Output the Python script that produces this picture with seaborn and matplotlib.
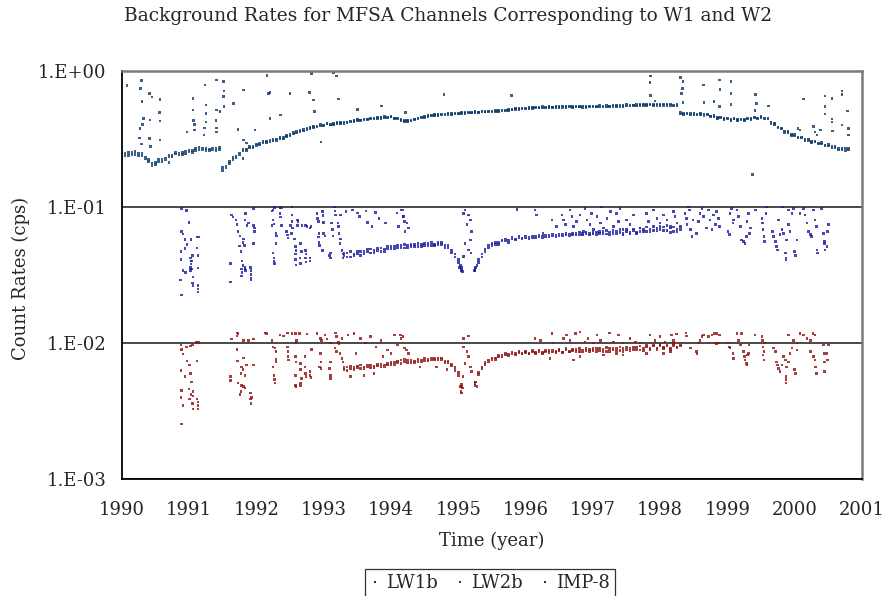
import numpy as np
import pandas as pd
import matplotlib
matplotlib.use("Agg")
import matplotlib.pyplot as plt
import seaborn as sns
from matplotlib.ticker import FixedLocator, FixedFormatter, LogLocator, NullFormatter, MultipleLocator
from matplotlib.lines import Line2D

TITLE = "Background Rates for MFSA Channels Corresponding to W1 and W2"
X_LABEL = "Time (year)"
Y_LABEL = "Count Rates (cps)"
SERIES = ["LW1b", "LW2b", "IMP-8"]
X_TICKS = list(range(1990, 2002))
Y_TICKS = [1e-3, 1e-2, 1e-1, 1e0]
Y_TICK_LABELS = ["1.E-03", "1.E-02", "1.E-01", "1.E+00"]

nan = float("nan")

# ---- IMP-8 dense band (read every 0.05 yr; two readings per time: band edges) ----
IMP8_BAND_YEARS = [
    1990.00, 1990.05, 1990.10, 1990.15, 1990.20, 1990.25, 1990.30, 1990.35, 1990.40, 1990.45,
    1990.50, 1990.55, 1990.60, 1990.65, 1990.70, 1990.75, 1990.80, 1990.85, 1990.90, 1990.95,
    1991.00, 1991.05, 1991.10, 1991.15, 1991.20, 1991.25, 1991.30, 1991.35, 1991.40, 1991.45,
    1991.50, 1991.55, 1991.60, 1991.65, 1991.70, 1991.75, 1991.80, 1991.85, 1991.90, 1991.95,
    1992.00, 1992.05, 1992.10, 1992.15, 1992.20, 1992.25, 1992.30, 1992.35, 1992.40, 1992.45,
    1992.50, 1992.55, 1992.60, 1992.65, 1992.70, 1992.75, 1992.80, 1992.85, 1992.90, 1992.95,
    1993.00, 1993.05, 1993.10, 1993.15, 1993.20, 1993.25, 1993.30, 1993.35, 1993.40, 1993.45,
    1993.50, 1993.55, 1993.60, 1993.65, 1993.70, 1993.75, 1993.80, 1993.85, 1993.90, 1993.95,
    1994.00, 1994.05, 1994.10, 1994.15, 1994.20, 1994.25, 1994.30, 1994.35, 1994.40, 1994.45,
    1994.50, 1994.55, 1994.60, 1994.65, 1994.70, 1994.75, 1994.80, 1994.85, 1994.90, 1994.95,
    1995.00, 1995.05, 1995.10, 1995.15, 1995.20, 1995.25, 1995.30, 1995.35, 1995.40, 1995.45,
    1995.50, 1995.55, 1995.60, 1995.65, 1995.70, 1995.75, 1995.80, 1995.85, 1995.90, 1995.95,
    1996.00, 1996.05, 1996.10, 1996.15, 1996.20, 1996.25, 1996.30, 1996.35, 1996.40, 1996.45,
    1996.50, 1996.55, 1996.60, 1996.65, 1996.70, 1996.75, 1996.80, 1996.85, 1996.90, 1996.95,
    1997.00, 1997.05, 1997.10, 1997.15, 1997.20, 1997.25, 1997.30, 1997.35, 1997.40, 1997.45,
    1997.50, 1997.55, 1997.60, 1997.65, 1997.70, 1997.75, 1997.80, 1997.85, 1997.90, 1997.95,
    1998.00, 1998.05, 1998.10, 1998.15, 1998.20, 1998.25, 1998.30, 1998.35, 1998.40, 1998.45,
    1998.50, 1998.55, 1998.60, 1998.65, 1998.70, 1998.75, 1998.80, 1998.85, 1998.90, 1998.95,
    1999.00, 1999.05, 1999.10, 1999.15, 1999.20, 1999.25, 1999.30, 1999.35, 1999.40, 1999.45,
    1999.50, 1999.55, 1999.60, 1999.65, 1999.70, 1999.75, 1999.80, 1999.85, 1999.90, 1999.95,
    2000.00, 2000.05, 2000.10, 2000.15, 2000.20, 2000.25, 2000.30, 2000.35, 2000.40, 2000.45,
    2000.50, 2000.55, 2000.60, 2000.65, 2000.70, 2000.75, 2000.80,
]
IMP8_BAND = [
    0.235, 0.245, 0.238, 0.250, 0.242, 0.248, 0.236, 0.225, 0.215, 0.200,
    0.205, 0.222, 0.215, 0.228, 0.232, 0.238, 0.244, 0.240, 0.250, 0.246,
    0.252, 0.258, 0.268, 0.262, 0.270, 0.258, 0.266, 0.262, 0.268, 0.272,
    0.185, 0.200, 0.215, 0.222, 0.235, 0.248, 0.256, 0.265, 0.270, 0.278,
    0.282, 0.292, 0.294, 0.302, 0.309, 0.303, 0.314, 0.316, 0.322, 0.328,
    0.338, 0.343, 0.356, 0.358, 0.368, 0.370, 0.381, 0.382, 0.392, 0.393,
    0.398, 0.404, 0.403, 0.410, 0.408, 0.415, 0.410, 0.420, 0.420, 0.428,
    0.428, 0.435, 0.434, 0.442, 0.440, 0.448, 0.446, 0.452, 0.450, 0.457,
    0.455, 0.450, 0.441, 0.430, 0.430, 0.423, 0.432, 0.436, 0.448, 0.450,
    0.460, 0.460, 0.470, 0.468, 0.474, 0.472, 0.478, 0.476, 0.482, 0.480,
    0.486, 0.484, 0.490, 0.488, 0.493, 0.491, 0.497, 0.495, 0.501, 0.498,
    0.504, 0.502, 0.507, 0.505, 0.512, 0.511, 0.518, 0.517, 0.524, 0.523,
    0.529, 0.527, 0.533, 0.530, 0.536, 0.532, 0.538, 0.534, 0.540, 0.535,
    0.542, 0.537, 0.543, 0.538, 0.544, 0.538, 0.545, 0.536, 0.544, 0.538,
    0.540, 0.546, 0.538, 0.549, 0.541, 0.551, 0.544, 0.553, 0.546, 0.556,
    0.548, 0.557, 0.558, 0.551, 0.561, 0.555, 0.563, 0.557, 0.561, 0.555,
    0.563, 0.555, 0.561, 0.553, 0.559, 0.549, 0.480, 0.485, 0.478, 0.482,
    0.476, 0.480, 0.474, 0.478, 0.470, 0.465, 0.458, 0.452, 0.448, 0.444,
    0.442, 0.438, 0.440, 0.436, 0.434, 0.438, 0.440, 0.445, 0.448, 0.450,
    0.452, 0.448, 0.440, 0.420, 0.400, 0.385, 0.372, 0.360, 0.350, 0.340,
    0.332, 0.326, 0.320, 0.314, 0.308, 0.302, 0.298, 0.294, 0.290, 0.285,
    0.280, 0.276, 0.272, 0.268, 0.264, 0.270, 0.262,
]
IMP8_BAND_2 = [
    0.248, 0.236, 0.250, 0.240, 0.254, 0.238, 0.246, 0.232, 0.222, 0.208,
    0.212, 0.214, 0.224, 0.220, 0.240, 0.232, 0.250, 0.248, 0.242, 0.256,
    0.262, 0.250, 0.260, 0.272, 0.262, 0.268, 0.258, 0.270, 0.260, 0.264,
    0.195, 0.192, 0.208, 0.230, 0.228, 0.240, 0.264, 0.258, 0.278, 0.270,
    0.290, 0.284, 0.302, 0.296, 0.300, 0.312, 0.306, 0.324, 0.314, 0.334,
    0.330, 0.350, 0.348, 0.366, 0.360, 0.378, 0.374, 0.390, 0.386, 0.400,
    0.392, 0.410, 0.398, 0.402, 0.416, 0.408, 0.418, 0.414, 0.426, 0.422,
    0.436, 0.428, 0.442, 0.436, 0.448, 0.440, 0.454, 0.446, 0.458, 0.450,
    0.462, 0.444, 0.448, 0.436, 0.424, 0.430, 0.426, 0.442, 0.442, 0.456,
    0.454, 0.466, 0.464, 0.476, 0.468, 0.480, 0.472, 0.484, 0.476, 0.488,
    0.480, 0.492, 0.484, 0.496, 0.487, 0.499, 0.491, 0.503, 0.495, 0.506,
    0.498, 0.510, 0.502, 0.513, 0.506, 0.518, 0.512, 0.524, 0.518, 0.530,
    0.522, 0.535, 0.526, 0.538, 0.530, 0.542, 0.532, 0.545, 0.534, 0.546,
    0.536, 0.548, 0.536, 0.549, 0.537, 0.550, 0.538, 0.549, 0.536, 0.548,
    0.548, 0.538, 0.554, 0.540, 0.556, 0.543, 0.558, 0.545, 0.560, 0.547,
    0.562, 0.549, 0.552, 0.565, 0.553, 0.566, 0.555, 0.568, 0.552, 0.566,
    0.555, 0.568, 0.552, 0.566, 0.550, 0.562, 0.490, 0.476, 0.488, 0.472,
    0.486, 0.470, 0.482, 0.468, 0.478, 0.458, 0.466, 0.445, 0.456, 0.436,
    0.450, 0.430, 0.446, 0.428, 0.442, 0.430, 0.448, 0.438, 0.456, 0.442,
    0.460, 0.440, 0.448, 0.410, 0.408, 0.378, 0.380, 0.352, 0.358, 0.334,
    0.338, 0.320, 0.326, 0.308, 0.314, 0.296, 0.304, 0.288, 0.296, 0.280,
    0.286, 0.270, 0.278, 0.262, 0.270, 0.258, 0.268,
]

# ---- LW1b / LW2b dense band 1993.3 - 1998.3 ----
LW_BAND_YEARS = [
    1993.30, 1993.35, 1993.40, 1993.45, 1993.50, 1993.55, 1993.60, 1993.65, 1993.70, 1993.75,
    1993.80, 1993.85, 1993.90, 1993.95,
    1994.00, 1994.05, 1994.10, 1994.15, 1994.20, 1994.25, 1994.30, 1994.35, 1994.40, 1994.45,
    1994.50, 1994.55, 1994.60, 1994.65, 1994.70, 1994.75, 1994.80, 1994.85, 1994.90, 1994.95,
    1995.00, 1995.05, 1995.10, 1995.15, 1995.20, 1995.25, 1995.30, 1995.35, 1995.40, 1995.45,
    1995.50, 1995.55, 1995.60, 1995.65, 1995.70, 1995.75, 1995.80, 1995.85, 1995.90, 1995.95,
    1996.00, 1996.05, 1996.10, 1996.15, 1996.20, 1996.25, 1996.30, 1996.35, 1996.40, 1996.45,
    1996.50, 1996.55, 1996.60, 1996.65, 1996.70, 1996.75, 1996.80, 1996.85, 1996.90, 1996.95,
    1997.00, 1997.05, 1997.10, 1997.15, 1997.20, 1997.25, 1997.30, 1997.35, 1997.40, 1997.45,
    1997.50, 1997.55, 1997.60, 1997.65, 1997.70, 1997.75, 1997.80, 1997.85, 1997.90, 1997.95,
    1998.00, 1998.05, 1998.10, 1998.15, 1998.20, 1998.25, 1998.30,
]
LW1B_BAND = [
    0.044, 0.046, 0.043, 0.045, 0.047, 0.044, 0.047, 0.049, 0.046, 0.048,
    0.050, 0.047, 0.049, 0.051,
    0.049, 0.051, 0.050, 0.052, 0.050, 0.052, 0.051, 0.053, 0.051, 0.053,
    0.052, 0.054, 0.052, 0.053, 0.055, 0.053, 0.052, 0.050, 0.048, 0.045,
    0.039, 0.034, nan, nan, nan, 0.0355, 0.039, 0.043, 0.047, 0.050,
    0.052, 0.053, 0.055, 0.056, 0.056, 0.057, 0.058, 0.058, 0.059, 0.059,
    0.059, 0.060, 0.059, 0.061, 0.060, 0.061, 0.060, 0.062, 0.061, 0.062,
    0.061, 0.063, 0.062, 0.063, 0.062, 0.064, 0.062, 0.064, 0.063, 0.064,
    0.063, 0.065, 0.064, 0.066, 0.063, 0.065, 0.064, 0.066, 0.065, 0.064,
    0.066, 0.065, 0.067, 0.064, 0.066, 0.068, 0.066, 0.069, 0.067, 0.070,
    0.068, 0.071, 0.067, 0.070, 0.066, 0.069, 0.068,
]
LW1B_BAND_2 = [
    0.046, 0.043, 0.047, 0.044, 0.045, 0.047, 0.045, 0.047, 0.049, 0.046,
    0.048, 0.050, 0.047, 0.049,
    0.051, 0.049, 0.052, 0.050, 0.053, 0.050, 0.053, 0.051, 0.054, 0.051,
    0.054, 0.052, 0.055, 0.052, 0.053, 0.055, 0.050, 0.052, 0.046, 0.043,
    0.041, 0.036, nan, nan, nan, 0.034, 0.041, 0.045, 0.049, 0.052,
    0.054, 0.055, 0.053, 0.057, 0.058, 0.055, 0.060, 0.057, 0.061, 0.058,
    0.061, 0.058, 0.061, 0.059, 0.062, 0.059, 0.062, 0.060, 0.063, 0.060,
    0.063, 0.061, 0.064, 0.061, 0.064, 0.062, 0.065, 0.062, 0.065, 0.062,
    0.065, 0.062, 0.066, 0.063, 0.067, 0.062, 0.067, 0.063, 0.068, 0.062,
    0.068, 0.063, 0.069, 0.065, 0.070, 0.066, 0.071, 0.066, 0.072, 0.067,
    0.072, 0.067, 0.073, 0.065, 0.071, 0.066, 0.072,
]
LW2B_BAND = [
    0.0064, 0.0067, 0.0065, 0.0066, 0.0068, 0.0065, 0.0067, 0.0069, 0.0066, 0.0068,
    0.0070, 0.0067, 0.0069, 0.0071,
    0.0070, 0.0073, 0.0072, 0.0075, 0.0073, 0.0075, 0.0072, 0.0074, 0.0073, 0.0075,
    0.0074, 0.0076, 0.0075, 0.0077, 0.0078, 0.0076, 0.0074, 0.0072, 0.0070, 0.0066,
    0.0058, 0.0048, nan, nan, nan, 0.0052, 0.0059, 0.0065, 0.0070, 0.0073,
    0.0076, 0.0078, 0.0079, 0.0081, 0.0082, 0.0083, 0.0083, 0.0084, 0.0085, 0.0084,
    0.0085, 0.0084, 0.0086, 0.0085, 0.0087, 0.0085, 0.0086, 0.0088, 0.0086, 0.0087,
    0.0088, 0.0086, 0.0089, 0.0087, 0.0088, 0.0090, 0.0087, 0.0089, 0.0088, 0.0090,
    0.0088, 0.0091, 0.0088, 0.0090, 0.0087, 0.0091, 0.0089, 0.0092, 0.0088, 0.0091,
    0.0089, 0.0092, 0.0090, 0.0093, 0.0089, 0.0092, 0.0094, 0.0091, 0.0095, 0.0092,
    0.0096, 0.0093, 0.0095, 0.0092, 0.0096, 0.0094, 0.0097,
]
LW2B_BAND_2 = [
    0.0066, 0.0063, 0.0068, 0.0064, 0.0066, 0.0069, 0.0065, 0.0067, 0.0069, 0.0066,
    0.0068, 0.0070, 0.0067, 0.0069,
    0.0072, 0.0070, 0.0074, 0.0071, 0.0076, 0.0072, 0.0075, 0.0072, 0.0076, 0.0073,
    0.0077, 0.0074, 0.0078, 0.0075, 0.0076, 0.0078, 0.0072, 0.0074, 0.0068, 0.0063,
    0.0061, 0.0050, nan, nan, nan, 0.0050, 0.0061, 0.0067, 0.0072, 0.0075,
    0.0078, 0.0076, 0.0081, 0.0079, 0.0084, 0.0081, 0.0085, 0.0082, 0.0087, 0.0083,
    0.0087, 0.0083, 0.0088, 0.0084, 0.0089, 0.0084, 0.0088, 0.0085, 0.0089, 0.0085,
    0.0090, 0.0085, 0.0091, 0.0086, 0.0090, 0.0087, 0.0091, 0.0086, 0.0091, 0.0087,
    0.0091, 0.0087, 0.0092, 0.0086, 0.0093, 0.0087, 0.0092, 0.0088, 0.0094, 0.0087,
    0.0093, 0.0088, 0.0094, 0.0089, 0.0095, 0.0088, 0.0096, 0.0090, 0.0097, 0.0090,
    0.0098, 0.0091, 0.0097, 0.0090, 0.0099, 0.0092, 0.0095,
]

# ---- scattered points (year, rate) ----
IMP8_SCATTER = [
    (1990.08, 0.774), (1990.29, 0.842), (1990.28, 0.735), (1990.30, 0.59), (1990.32, 0.446),
    (1990.31, 0.40), (1990.27, 0.376), (1990.26, 0.32), (1990.29, 0.29), (1990.41, 0.68),
    (1990.45, 0.64), (1990.42, 0.433), (1990.41, 0.318), (1990.43, 0.276), (1990.57, 0.61),
    (1990.56, 0.49), (1990.57, 0.426), (1990.57, 0.31), (1991.06, 0.625), (1991.06, 0.513),
    (1991.07, 0.43), (1991.08, 0.40), (1991.08, 0.366), (1990.97, 0.355), (1991.24, 0.783),
    (1991.25, 0.56), (1991.25, 0.485), (1991.25, 0.42), (1991.23, 0.38), (1991.22, 0.336),
    (1991.41, 0.852), (1991.41, 0.513), (1991.40, 0.43), (1991.41, 0.38), (1991.41, 0.354),
    (1991.46, 0.50), (1991.51, 0.828), (1991.52, 0.71), (1991.51, 0.642), (1991.52, 0.542),
    (1991.66, 0.574), (1991.81, 0.72), (1991.73, 0.37), (1991.81, 0.31), (1991.85, 0.295),
    (1991.98, 0.366), (1992.16, 0.916), (1992.18, 0.68), (1992.20, 0.69), (1992.20, 0.446),
    (1992.36, 0.47), (1992.50, 0.68), (1992.79, 0.687), (1992.82, 0.953), (1992.85, 0.608),
    (1992.86, 0.50), (1992.96, 0.30), (1993.15, 0.96), (1993.19, 0.91), (1993.22, 0.618),
    (1993.50, 0.52), (1993.86, 0.549), (1994.22, 0.494), (1994.79, 0.669), (1995.79, 0.653),
    (1997.86, 0.911), (1997.85, 0.819), (1997.86, 0.653), (1997.92, 0.598), (1998.30, 0.885),
    (1998.34, 0.828), (1998.33, 0.74), (1998.32, 0.68), (1998.34, 0.58), (1998.64, 0.783),
    (1998.65, 0.58), (1998.88, 0.852), (1998.89, 0.728), (1998.80, 0.59), (1998.88, 0.542),
    (1999.05, 0.828), (1999.05, 0.68), (1999.05, 0.565), (1999.42, 0.669), (1999.43, 0.574),
    (1999.41, 0.51), (1999.61, 0.549), (1999.37, 0.173), (2000.13, 0.618), (2000.45, 0.65),
    (2000.45, 0.542), (2000.45, 0.48), (2000.55, 0.625), (2000.55, 0.44), (2000.55, 0.42),
    (2000.56, 0.36), (2000.70, 0.707), (2000.70, 0.669), (2000.70, 0.398), (2000.78, 0.505),
    (2000.80, 0.376), (2000.80, 0.337), (2000.28, 0.387), (2000.30, 0.355), (2000.33, 0.337),
    (2000.38, 0.366), (2000.05, 0.376), (2000.08, 0.366), (1991.80, 0.227), (1990.70, 0.212),
]

LW1B_SCATTER = [
    (1990.89, 0.0975), (1990.96, 0.094), (1990.89, 0.066), (1990.91, 0.063), (1990.88, 0.047),
    (1990.88, 0.041), (1990.87, 0.029), (1990.89, 0.0225), (1990.94, 0.0575), (1990.97, 0.053),
    (1990.94, 0.0495), (1990.91, 0.034), (1990.95, 0.033), (1991.00, 0.077), (1991.03, 0.0575),
    (1991.02, 0.042), (1991.03, 0.040), (1991.03, 0.038), (1991.02, 0.036), (1991.02, 0.034),
    (1991.04, 0.035), (1991.06, 0.0305), (1991.05, 0.0276), (1991.06, 0.0265), (1991.12, 0.060),
    (1991.13, 0.044), (1991.13, 0.0355), (1991.13, 0.0265), (1991.13, 0.025), (1991.13, 0.0238),
    (1991.14, 0.060), (1991.12, 0.050), (1991.04, 0.040), (1991.05, 0.044),
    (1991.63, 0.087), (1991.65, 0.084), (1991.70, 0.080), (1991.71, 0.074), (1991.73, 0.066),
    (1991.76, 0.061), (1991.62, 0.0385), (1991.62, 0.028), (1991.75, 0.0515), (1991.77, 0.047),
    (1991.83, 0.080), (1991.86, 0.073), (1991.84, 0.089), (1991.88, 0.076), (1991.81, 0.058),
    (1991.80, 0.055), (1991.82, 0.052), (1991.79, 0.040), (1991.80, 0.037), (1991.78, 0.035),
    (1991.79, 0.033), (1991.78, 0.031), (1991.83, 0.036), (1991.83, 0.035), (1991.84, 0.034),
    (1991.91, 0.036), (1991.92, 0.034), (1991.92, 0.032), (1991.92, 0.030), (1991.92, 0.029),
    (1991.96, 0.073), (1991.97, 0.070), (1991.97, 0.066), (1991.96, 0.097), (1991.96, 0.054),
    (1992.23, 0.093), (1992.25, 0.095), (1992.27, 0.099), (1992.25, 0.080), (1992.26, 0.075),
    (1992.23, 0.073), (1992.29, 0.064), (1992.30, 0.061), (1992.29, 0.054), (1992.25, 0.046),
    (1992.26, 0.042), (1992.26, 0.040), (1992.27, 0.0385), (1992.35, 0.089), (1992.36, 0.084),
    (1992.37, 0.073), (1992.35, 0.099), (1992.37, 0.098), (1992.45, 0.066), (1992.46, 0.062),
    (1992.47, 0.059), (1992.53, 0.100), (1992.53, 0.087), (1992.53, 0.078), (1992.54, 0.070),
    (1992.51, 0.073), (1992.52, 0.064),
    (1992.58, 0.051), (1992.59, 0.048), (1992.58, 0.045), (1992.58, 0.041), (1992.59, 0.0375),
    (1992.66, 0.054), (1992.67, 0.047), (1992.65, 0.042), (1992.66, 0.0385), (1992.73, 0.048),
    (1992.74, 0.045), (1992.73, 0.042), (1992.74, 0.0395), (1992.80, 0.042), (1992.80, 0.040),
    (1992.61, 0.080), (1992.62, 0.078), (1992.61, 0.073), (1992.73, 0.073), (1992.75, 0.072),
    (1992.80, 0.070), (1992.81, 0.072), (1992.68, 0.073), (1992.57, 0.058),
    (1992.90, 0.089), (1992.91, 0.082), (1992.92, 0.078), (1992.98, 0.092), (1992.99, 0.086),
    (1993.00, 0.077), (1992.93, 0.064), (1992.92, 0.060), (1992.93, 0.055), (1992.94, 0.052),
    (1992.98, 0.048), (1993.00, 0.064), (1993.02, 0.061), (1993.10, 0.046), (1993.09, 0.044),
    (1993.10, 0.042), (1993.12, 0.076), (1993.13, 0.068), (1993.14, 0.061), (1993.16, 0.100),
    (1993.17, 0.093), (1993.18, 0.087), (1993.21, 0.076), (1993.22, 0.072), (1993.23, 0.064),
    (1993.25, 0.058), (1993.24, 0.054), (1993.25, 0.087), (1993.27, 0.048), (1993.29, 0.045),
    (1993.29, 0.042),
    (1993.33, 0.092), (1993.43, 0.095), (1993.50, 0.090), (1993.53, 0.085), (1993.63, 0.093),
    (1993.65, 0.077), (1993.72, 0.072), (1993.77, 0.091), (1993.82, 0.082), (1993.92, 0.076),
    (1994.09, 0.090), (1994.11, 0.072), (1994.15, 0.095), (1994.18, 0.085), (1994.20, 0.078),
    (1994.18, 0.0947), (1994.19, 0.0846), (1994.21, 0.066), (1994.24, 0.076), (1994.26, 0.070),
    (1995.08, 0.0895), (1995.10, 0.095), (1995.15, 0.087), (1995.18, 0.080), (1995.13, 0.074),
    (1995.20, 0.066), (1995.18, 0.0573), (1995.10, 0.054), (1995.15, 0.0484), (1995.19, 0.046),
    (1995.08, 0.0432), (1995.02, 0.036), (1995.04, 0.035), (1995.06, 0.0335), (1995.03, 0.037),
    (1995.24, 0.034), (1995.26, 0.036), (1995.28, 0.037),
    (1995.87, 0.096), (1996.14, 0.095), (1996.16, 0.087), (1996.39, 0.080), (1996.46, 0.072),
    (1996.26, 0.064),
    (1996.54, 0.087), (1996.56, 0.080), (1996.59, 0.074), (1996.66, 0.095), (1996.69, 0.085),
    (1996.71, 0.072), (1996.76, 0.078), (1996.81, 0.087), (1996.86, 0.066), (1996.88, 0.097),
    (1996.91, 0.080), (1996.96, 0.074), (1996.98, 0.0895), (1997.01, 0.068), (1997.06, 0.085),
    (1997.11, 0.076), (1997.13, 0.100), (1997.16, 0.070), (1997.21, 0.082), (1997.26, 0.092),
    (1997.31, 0.072), (1997.35, 0.0895), (1997.38, 0.078), (1997.40, 0.097), (1997.45, 0.068),
    (1997.50, 0.080), (1997.55, 0.074), (1997.60, 0.087), (1997.70, 0.070), (1997.80, 0.0895),
    (1997.83, 0.078), (1997.90, 0.095), (1997.95, 0.082), (1998.00, 0.076), (1998.05, 0.087),
    (1998.10, 0.080), (1998.15, 0.072), (1998.20, 0.092), (1998.22, 0.085), (1998.25, 0.076),
    (1998.37, 0.0895), (1998.39, 0.082), (1998.40, 0.074), (1998.44, 0.095), (1998.45, 0.068),
    (1998.47, 0.0607), (1998.49, 0.080), (1998.42, 0.100),
    (1998.54, 0.064), (1998.57, 0.078), (1998.59, 0.0895), (1998.62, 0.097), (1998.64, 0.085),
    (1998.69, 0.070), (1998.72, 0.095), (1998.74, 0.080), (1998.77, 0.068), (1998.79, 0.087),
    (1998.82, 0.074), (1998.84, 0.092), (1998.87, 0.082), (1998.88, 0.072),
    (1999.01, 0.066), (1999.03, 0.0624), (1999.04, 0.0895), (1999.06, 0.097), (1999.08, 0.076),
    (1999.09, 0.080), (1999.14, 0.095), (1999.16, 0.085), (1999.19, 0.072), (1999.21, 0.0573),
    (1999.24, 0.0557), (1999.26, 0.054), (1999.28, 0.0607), (1999.29, 0.078), (1999.31, 0.0895),
    (1999.33, 0.064), (1999.34, 0.070),
    (1999.42, 0.095), (1999.51, 0.082), (1999.52, 0.076), (1999.53, 0.068), (1999.54, 0.0607),
    (1999.55, 0.0557), (1999.57, 0.0895), (1999.58, 0.100),
    (1999.67, 0.066), (1999.68, 0.0607), (1999.71, 0.0557), (1999.73, 0.0512), (1999.74, 0.0484),
    (1999.76, 0.080), (1999.78, 0.0624), (1999.81, 0.068), (1999.83, 0.064), (1999.86, 0.046),
    (1999.87, 0.042), (1999.87, 0.0406), (1999.88, 0.0573), (1999.91, 0.074), (1999.93, 0.066),
    (1999.96, 0.0895), (1999.98, 0.097), (2000.00, 0.047), (2000.01, 0.044), (2000.03, 0.0573),
    (1999.82, 0.100), (1999.91, 0.095),
    (2000.08, 0.0895), (2000.13, 0.097), (2000.15, 0.087), (2000.18, 0.076), (2000.20, 0.066),
    (2000.23, 0.0624), (2000.25, 0.0607), (2000.28, 0.095), (2000.30, 0.080), (2000.32, 0.072),
    (2000.33, 0.0484), (2000.34, 0.046), (2000.43, 0.064), (2000.44, 0.0557), (2000.44, 0.054),
    (2000.45, 0.0484), (2000.48, 0.0512), (2000.49, 0.066), (2000.50, 0.074), (2000.40, 0.097),
]

LW2B_SCATTER = [
    (1990.88, 0.0097), (1990.89, 0.0090), (1990.91, 0.0083), (1990.96, 0.0094), (1991.02, 0.0095),
    (1991.05, 0.0097), (1990.88, 0.0063), (1990.94, 0.0057), (1990.89, 0.0045), (1990.88, 0.0040),
    (1990.91, 0.0035), (1990.89, 0.00255), (1990.97, 0.0074), (1991.01, 0.0069), (1991.02, 0.0060),
    (1991.04, 0.0052), (1991.00, 0.0046), (1991.03, 0.0042), (1991.01, 0.0039), (1991.06, 0.0044),
    (1991.06, 0.0041), (1991.05, 0.0036), (1991.06, 0.0033), (1991.12, 0.0039), (1991.13, 0.0037),
    (1991.13, 0.0035), (1991.13, 0.0033), (1991.12, 0.0074), (1991.11, 0.0101), (1991.14, 0.0101),
    (1991.71, 0.0119), (1991.73, 0.0118), (1991.71, 0.0113), (1991.63, 0.0107), (1991.81, 0.0105),
    (1991.88, 0.0105), (1991.96, 0.0107), (1991.71, 0.0090), (1991.72, 0.0074), (1991.81, 0.0078),
    (1991.78, 0.0067), (1991.80, 0.0064), (1991.77, 0.0060), (1991.83, 0.0058), (1991.62, 0.0057),
    (1991.62, 0.0053), (1991.73, 0.0051), (1991.78, 0.0049), (1991.81, 0.0048), (1991.83, 0.0047),
    (1991.77, 0.0044), (1991.76, 0.0042), (1991.91, 0.0043), (1991.93, 0.0040), (1991.91, 0.0039),
    (1991.92, 0.0036), (1991.96, 0.0069), (1991.85, 0.0069),
    (1992.13, 0.0119), (1992.15, 0.0118), (1992.23, 0.0105), (1992.25, 0.0094), (1992.28, 0.0092),
    (1992.29, 0.0087), (1992.29, 0.0076), (1992.29, 0.0073), (1992.25, 0.0067), (1992.26, 0.0058),
    (1992.27, 0.0054), (1992.28, 0.0051), (1992.35, 0.0115), (1992.40, 0.0113), (1992.46, 0.0119),
    (1992.53, 0.0118), (1992.46, 0.0094), (1992.47, 0.0087), (1992.47, 0.0080), (1992.48, 0.0075),
    (1992.58, 0.0118), (1992.60, 0.0105), (1992.59, 0.0101),
    (1992.58, 0.0080), (1992.59, 0.0073), (1992.58, 0.0058), (1992.58, 0.0049), (1992.59, 0.0048),
    (1992.66, 0.0071), (1992.66, 0.0064), (1992.67, 0.0055), (1992.66, 0.0051), (1992.66, 0.0049),
    (1992.72, 0.0067), (1992.73, 0.0060), (1992.74, 0.0057), (1992.80, 0.0062), (1992.80, 0.0058),
    (1992.81, 0.0056), (1992.64, 0.0118), (1992.75, 0.0117), (1992.82, 0.0090), (1992.72, 0.0080),
    (1992.90, 0.0118), (1992.95, 0.0108), (1992.97, 0.0105), (1993.02, 0.0115), (1993.05, 0.0107),
    (1993.10, 0.0100), (1993.18, 0.0119), (1993.19, 0.0112), (1993.22, 0.0101), (1993.23, 0.0099),
    (1993.27, 0.0108), (1992.95, 0.0084), (1992.96, 0.0073), (1992.94, 0.0067), (1992.96, 0.0065),
    (1993.10, 0.0073), (1993.09, 0.0065), (1993.10, 0.0058), (1993.10, 0.0055), (1993.17, 0.0092),
    (1993.19, 0.0087), (1993.24, 0.0084), (1993.27, 0.0077), (1993.29, 0.0073),
    (1993.36, 0.0115), (1993.45, 0.0118), (1993.55, 0.0108), (1993.62, 0.0100), (1993.70, 0.0112),
    (1993.78, 0.0094), (1993.85, 0.0105), (1993.95, 0.0089), (1994.05, 0.0115), (1994.10, 0.0097),
    (1994.15, 0.0108), (1994.20, 0.0092), (1993.40, 0.0057), (1993.60, 0.0058), (1993.75, 0.0060),
    (1993.48, 0.0084), (1993.88, 0.0080), (1994.00, 0.0084),
    (1994.14, 0.0115), (1994.18, 0.0112), (1994.23, 0.0089), (1994.26, 0.0084), (1994.43, 0.0067),
    (1994.68, 0.0067), (1994.83, 0.0064),
    (1995.08, 0.0108), (1995.15, 0.0113), (1995.08, 0.0094), (1995.13, 0.0087), (1995.15, 0.0080),
    (1995.18, 0.0067), (1995.20, 0.0062), (1995.10, 0.0071), (1995.07, 0.0057), (1995.03, 0.0048),
    (1995.04, 0.0044), (1995.06, 0.0047), (1995.25, 0.0049), (1995.26, 0.0052), (1995.28, 0.0048),
    (1995.05, 0.0043),
    (1996.14, 0.0108), (1996.22, 0.0105), (1996.39, 0.0118), (1996.41, 0.0100), (1996.56, 0.0108),
    (1996.61, 0.0115), (1996.66, 0.0105), (1996.74, 0.0118), (1996.81, 0.0121), (1996.88, 0.0102),
    (1996.93, 0.0108), (1997.01, 0.0100), (1997.06, 0.0115), (1997.11, 0.0105), (1997.25, 0.0119),
    (1997.31, 0.0102), (1997.38, 0.0115), (1997.45, 0.0100), (1997.55, 0.0108), (1997.63, 0.0102),
    (1997.70, 0.0100), (1997.85, 0.0115), (1997.92, 0.0105), (1998.00, 0.0112), (1998.07, 0.0102),
    (1998.17, 0.0115), (1998.24, 0.0117), (1998.20, 0.0105),
    (1996.36, 0.0077), (1996.71, 0.0075), (1996.81, 0.0080), (1997.16, 0.0082), (1997.35, 0.0084),
    (1997.45, 0.0082), (1997.80, 0.0084), (1998.05, 0.0084), (1998.15, 0.0087),
    (1998.385, 0.0119), (1998.39, 0.0113), (1998.45, 0.0092), (1998.54, 0.0087), (1998.55, 0.0084),
    (1998.57, 0.0100), (1998.59, 0.0105), (1998.62, 0.0112), (1998.64, 0.0115),
    (1998.72, 0.0112), (1998.77, 0.0115), (1998.80, 0.0118), (1998.84, 0.0118), (1998.88, 0.0115),
    (1998.87, 0.0100), (1998.84, 0.0099),
    (1999.01, 0.0100), (1999.03, 0.0094), (1999.04, 0.0092), (1999.08, 0.0084), (1999.09, 0.0077),
    (1999.14, 0.0118), (1999.16, 0.0105), (1999.19, 0.0097), (1999.21, 0.0118), (1999.24, 0.0087),
    (1999.25, 0.0080), (1999.26, 0.0075), (1999.28, 0.0071), (1999.30, 0.0082), (1999.31, 0.0084),
    (1999.32, 0.0097), (1999.29, 0.0069),
    (1999.51, 0.0112), (1999.52, 0.0105), (1999.53, 0.0094), (1999.54, 0.0087), (1999.53, 0.0082),
    (1999.54, 0.0075), (1999.56, 0.0100), (1999.41, 0.0115),
    (1999.68, 0.0092), (1999.71, 0.0087), (1999.73, 0.0073), (1999.74, 0.0069), (1999.76, 0.0065),
    (1999.78, 0.0062), (1999.81, 0.0069), (1999.83, 0.0080), (1999.86, 0.0075), (1999.87, 0.0057),
    (1999.87, 0.0054), (1999.87, 0.0051), (1999.88, 0.0067), (1999.91, 0.0073), (1999.93, 0.0084),
    (1999.96, 0.0092), (1999.98, 0.0105), (2000.00, 0.0064), (2000.01, 0.0060), (2000.03, 0.0089),
    (1999.91, 0.0115), (2000.03, 0.0100),
    (2000.08, 0.0118), (2000.13, 0.0115), (2000.18, 0.0108), (2000.23, 0.0105), (2000.27, 0.0118),
    (2000.30, 0.0115), (2000.23, 0.0087), (2000.28, 0.0080), (2000.30, 0.0075), (2000.31, 0.0067),
    (2000.32, 0.0060), (2000.43, 0.0097), (2000.44, 0.0084), (2000.44, 0.0073), (2000.44, 0.0062),
    (2000.48, 0.0084), (2000.49, 0.0075), (2000.50, 0.0097),
]

COLORS = {"LW1b": "#1a1a9c", "LW2b": "#8e1010", "IMP-8": "#0c3868"}

assert len(IMP8_BAND_YEARS) == len(IMP8_BAND) == len(IMP8_BAND_2)
assert len(LW_BAND_YEARS) == len(LW1B_BAND) == len(LW2B_BAND) == len(LW1B_BAND_2) == len(LW2B_BAND_2)


def frame(series, years, rates):
    return pd.DataFrame({"year": years, "rate": rates, "series": series})


parts = [
    frame("LW1b", LW_BAND_YEARS, LW1B_BAND),
    frame("LW1b", LW_BAND_YEARS, LW1B_BAND_2),
    frame("LW1b", [p[0] for p in LW1B_SCATTER], [p[1] for p in LW1B_SCATTER]),
    frame("LW2b", LW_BAND_YEARS, LW2B_BAND),
    frame("LW2b", LW_BAND_YEARS, LW2B_BAND_2),
    frame("LW2b", [p[0] for p in LW2B_SCATTER], [p[1] for p in LW2B_SCATTER]),
    frame("IMP-8", IMP8_BAND_YEARS, IMP8_BAND),
    frame("IMP-8", IMP8_BAND_YEARS, IMP8_BAND_2),
    frame("IMP-8", [p[0] for p in IMP8_SCATTER], [p[1] for p in IMP8_SCATTER]),
]
df = pd.concat(parts, ignore_index=True).dropna()

sns.set_style("white")
plt.rcParams["font.family"] = ["DejaVu Serif"]

fig = plt.figure(figsize=(8.86, 5.96), dpi=100)
ax = fig.add_axes([0.1374, 0.1955, 0.8356, 0.6862])

sns.scatterplot(data=df, x="year", y="rate", hue="series", hue_order=SERIES,
                palette=COLORS, marker="s", s=3.4, linewidth=0, alpha=0.8,
                legend=False, ax=ax)

ax.set_yscale("log")
ax.set_xlim(1990, 2001)
ax.set_ylim(1e-3, 1e0)

ax.xaxis.set_major_locator(FixedLocator(X_TICKS))
ax.xaxis.set_minor_locator(MultipleLocator(0.2))
ax.yaxis.set_major_locator(FixedLocator(Y_TICKS))
ax.yaxis.set_major_formatter(FixedFormatter(Y_TICK_LABELS))
ax.yaxis.set_minor_locator(LogLocator(base=10, subs=np.arange(2, 10)))
ax.yaxis.set_minor_formatter(NullFormatter())

ax.tick_params(axis="x", which="major", direction="inout", length=9, width=1.0,
               labelsize=13, pad=11, color="black")
ax.tick_params(axis="x", which="minor", direction="inout", length=5, width=0.9, color="black")
ax.tick_params(axis="y", which="major", direction="out", length=5, width=1.0,
               labelsize=13, pad=6, color="black")
ax.tick_params(axis="y", which="minor", direction="out", length=5, width=0.9, color="#333333")

ax.grid(False)
ax.yaxis.grid(True, which="major", color="#3a3a3a", linewidth=1.3)
ax.set_axisbelow(True)

for side in ["left", "bottom"]:
    ax.spines[side].set_color("black")
    ax.spines[side].set_linewidth(1.3)
for side in ["top", "right"]:
    ax.spines[side].set_color("#7a7a7a")
    ax.spines[side].set_linewidth(1.8)

ax.set_xlabel("")
ax.set_ylabel("")
fig.text(0.506, 0.973, TITLE, ha="center", va="center", fontsize=13.4)
fig.text(0.555, 0.093, X_LABEL, ha="center", va="center", fontsize=13)
fig.text(0.023, 0.532, Y_LABEL, ha="center", va="center", rotation=90, fontsize=13)

handles = [Line2D([], [], ls="", marker="s", markersize=1.6, markeredgewidth=0,
                  color=COLORS[s]) for s in SERIES]
leg = fig.legend(handles, SERIES, loc="upper center", bbox_to_anchor=(0.553, 0.0453),
                 ncol=3, frameon=True, fancybox=False, fontsize=13, handlelength=0.5,
                 handletextpad=0.35, columnspacing=1.0, borderpad=0.3, borderaxespad=0.0)
leg.get_frame().set_edgecolor("black")
leg.get_frame().set_linewidth(0.9)

fig.savefig("out.png", dpi=100)
